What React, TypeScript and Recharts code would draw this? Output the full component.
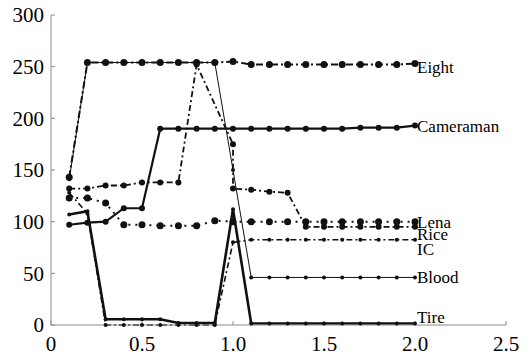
import React from 'react';
import { LineChart, Line, XAxis, YAxis, ReferenceDot } from 'recharts';

// x positions shared by most curves
const xs = [0.1, 0.2, 0.3, 0.4, 0.5, 0.6, 0.7, 0.8, 0.9, 1.0, 1.1, 1.2, 1.3, 1.4, 1.5, 1.6, 1.7, 1.8, 1.9, 2.0];
// Rice has no point at 0.9 and two at 1.0
const riceXs = [0.1, 0.2, 0.3, 0.4, 0.5, 0.6, 0.7, 0.8, 1.0, 1.0, 1.1, 1.2, 1.3, 1.4, 1.5, 1.6, 1.7, 1.8, 1.9, 2.0];

const eight = [143, 254, 254, 254, 254, 254, 254, 254, 254, 255, 252, 252, 252, 252, 252, 252, 252, 252, 252, 253];
const cameraman = [97, 99, 100, 113, 113, 190, 190, 190, 190, 190, 190, 190, 190, 190, 190, 190, 191, 191, 191, 193];
const lena = [123, 123, 118, 97, 97, 96, 96, 96, 101, 100, 100, 100, 100, 100, 100, 100, 100, 100, 100, 100];
const rice = [132, 132, 135, 135, 138, 138, 138, 252, 175, 132, 131, 129, 128, 95, 95, 95, 95, 95, 95, 95];
const ic = [128, 108, 0, 0, 0, 0, 0, 0, 0, 80, 82.5, 82.5, 82.5, 82.5, 82.5, 82.5, 82.5, 82.5, 82.5, 82.5];
const blood = [141, 254, 254, 254, 254, 254, 254, 254, 254, 150, 46, 46, 46, 46, 46, 46, 46, 46, 46, 46];
const tire = [107, 110, 5.5, 5.5, 5.5, 5.5, 2, 2, 2, 112, 1.5, 1.5, 1.5, 1.5, 1.5, 1.5, 1.5, 1.5, 1.5, 1.5];

const xTicks = [0, 0.5, 1, 1.5, 2, 2.5];
const yTicks = [0, 50, 100, 150, 200, 250, 300];

// end-of-line annotations and the y level where each one sits
const labelNames = ['Eight', 'Cameraman', 'Lena', 'Rice', 'IC', 'Blood', 'Tire'];
const labelLevels = [250, 193, 100, 88, 74, 46.5, 8];

const toPoints = (x: number[], y: number[]) => x.map((v, i) => ({ x: v, y: y[i] }));

const INK = '#111';
const AXIS = '#8a8a8a';

const series = [
  { name: 'Blood', data: toPoints(xs, blood), width: 1, dash: undefined, r: 2 },
  { name: 'Eight', data: toPoints(xs, eight), width: 2, dash: '7 3 2 3', r: 3.5 },
  { name: 'Rice', data: toPoints(riceXs, rice), width: 1.8, dash: '6 3 2 3', r: 3 },
  { name: 'Lena', data: toPoints(xs, lena), width: 2, dash: '2 5', r: 3.5 },
  { name: 'IC', data: toPoints(xs, ic), width: 1.6, dash: '6 3 2 3', r: 2 },
  { name: 'Cameraman', data: toPoints(xs, cameraman), width: 2.2, dash: undefined, r: 3 },
  { name: 'Tire', data: toPoints(xs, tire), width: 2.6, dash: undefined, r: 2 },
];

const fmtX = (v: number) => (v === 0 ? '0' : v.toFixed(1));
const Empty = () => <g />;

export default function App() {
  return (
    <div style={{ position: 'absolute', left: 0, top: 0, background: '#fff' }}>
      <LineChart width={532} height={357} margin={{ top: 15, right: 26, bottom: 5, left: 5 }}>
        <XAxis
          type="number"
          dataKey="x"
          domain={[0, 2.5]}
          ticks={xTicks}
          tickFormatter={fmtX}
          height={27}
          stroke={AXIS}
          tickSize={-4}
          tickMargin={15}
          tick={{ fill: '#000', fontSize: 21, fontFamily: 'Liberation Serif' }}
          allowDuplicatedCategory
        />
        <XAxis
          xAxisId="top"
          orientation="top"
          type="number"
          dataKey="x"
          domain={[0, 2.5]}
          ticks={xTicks}
          height={0}
          stroke={AXIS}
          tickSize={-4}
          tick={Empty}
        />
        <YAxis
          domain={[0, 300]}
          ticks={yTicks}
          width={46}
          stroke={AXIS}
          tickSize={-4}
          tickMargin={11}
          tick={{ fill: '#000', fontSize: 21, fontFamily: 'Liberation Serif' }}
        />
        <YAxis
          yAxisId="right"
          orientation="right"
          domain={[0, 300]}
          ticks={yTicks}
          width={0}
          stroke={AXIS}
          tickSize={-4}
          tick={Empty}
        />
        {series.map((s) => (
          <Line
            key={s.name}
            data={s.data}
            dataKey="y"
            type="linear"
            stroke={INK}
            strokeWidth={s.width}
            strokeDasharray={s.dash}
            dot={{ r: s.r, fill: INK, stroke: INK, strokeWidth: 0 }}
            activeDot={false}
            isAnimationActive={false}
          />
        ))}
        {labelNames.map((name, i) => (
          <ReferenceDot
            key={name}
            x={2.0}
            y={labelLevels[i]}
            r={0}
            fill="none"
            stroke="none"
            ifOverflow="visible"
            label={{ value: name, position: 'right', offset: 2, fill: '#000', fontSize: 17, style: { fontFamily: 'Liberation Serif' } }}
          />
        ))}
      </LineChart>
    </div>
  );
}
